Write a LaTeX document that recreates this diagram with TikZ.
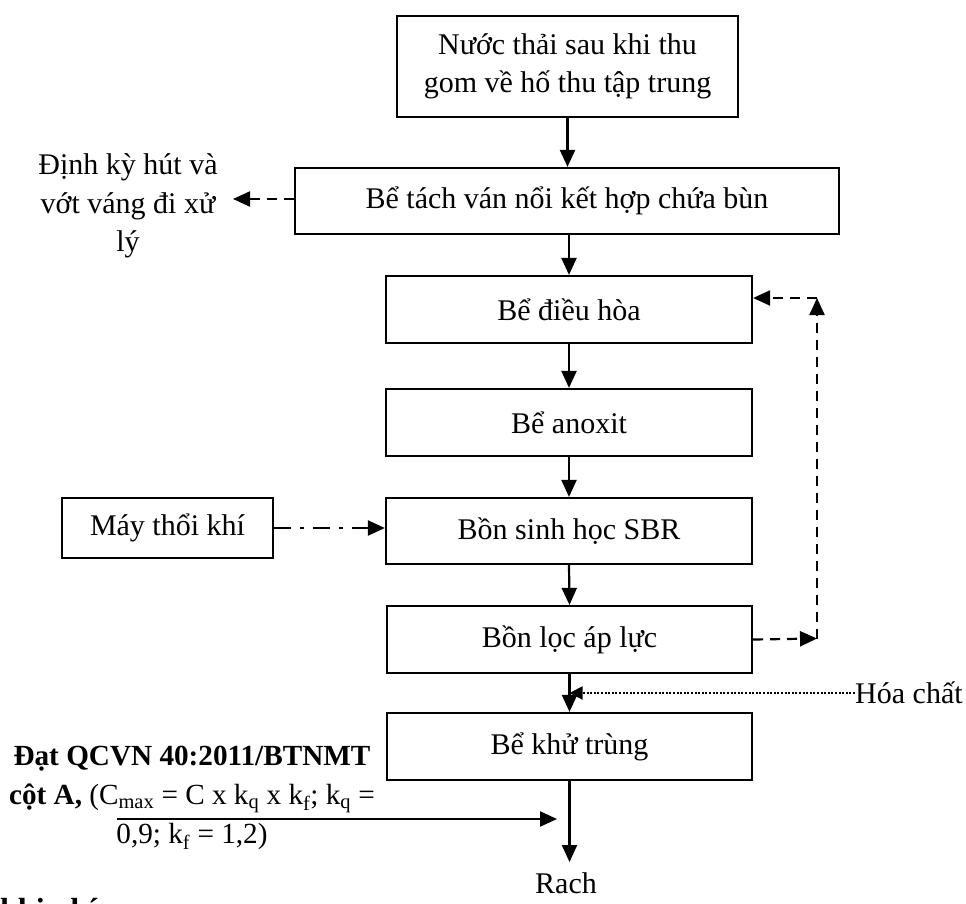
\documentclass[tikz,border=0pt]{standalone}
\usepackage{fontspec}
\setmainfont{Liberation Serif}
\usetikzlibrary{arrows.meta,calc}
\begin{document}
\begin{tikzpicture}[x=1pt,y=-1pt,
  font=\fontsize{30}{38.5}\selectfont,
  proc/.style={draw,line width=2.2pt,inner sep=0pt,align=center},
  tipstyle/.style={-{Triangle[length=17pt,width=15pt]}},
  flow/.style={line width=2.2pt,tipstyle},
  backflow/.style={line width=2.2pt,dash pattern=on 10pt off 7pt,tipstyle},
  airflow/.style={line width=2.2pt,dash pattern=on 17pt off 9pt on 4pt off 9pt,tipstyle},
  dosing/.style={line width=2pt,dash pattern=on 2pt off 1.6pt,-{Triangle[length=13pt,width=13pt]}},
  label/.style={inner sep=0pt,align=center}
]
\useasboundingbox (0,0) rectangle (966,903);

% main treatment line
\node[proc,minimum width=341pt,minimum height=101pt] (b1) at (567.5,66.5)
  {Nước thải sau khi thu\\gom về hố thu tập trung};
\node[proc,minimum width=544pt,minimum height=66pt] (b2) at (567,201)
  {Bể tách ván nổi kết hợp chứa bùn};
\node[proc,minimum width=366pt,minimum height=67pt] (b3) at (569,309.5) {Bể điều hòa};
\node[proc,minimum width=366pt,minimum height=67pt] (b4) at (569,422.5) {Bể anoxit};
\node[proc,minimum width=366pt,minimum height=66pt] (b6) at (569,531) {Bồn sinh học SBR};
\node[proc,minimum width=365pt,minimum height=67pt] (b7) at (569.5,639.5) {Bồn lọc áp lực};
\node[proc,minimum width=365pt,minimum height=67pt] (b8) at (569.5,746.5) {Bể khử trùng};

% blower
\node[proc,minimum width=211pt,minimum height=60pt] (b5) at (167.5,528) {Máy thổi khí};

% side labels
\node[label] (skimtxt) at (128,206) {Định kỳ hút và\\vớt váng đi xử\\lý};
\node[label,anchor=west] (hoa) at (855,693) {Hóa chất};
\node[label] (rach) at (566,883) {Rach};
\node[label,font=\fontsize{29.2}{39}\selectfont] (qcvn) at (192,798)
  {\textbf{Đạt QCVN 40:2011/BTNMT}\\
   \textbf{cột A,} (C\textsubscript{max} = C x k\textsubscript{q} x k\textsubscript{f}; k\textsubscript{q} =\\
   0,9; k\textsubscript{f} = 1,2)};
\node[label,anchor=base west,font=\fontsize{32}{38}\selectfont\bfseries] (tail) at (0,920) {khi phí};

% helper points
\coordinate (skim) at (233,199);
\coordinate (rc1) at (817,638.5);
\coordinate (rc2) at (817,298);
\coordinate (out) at (569.5,862);
\coordinate (qs) at (117,819);
\coordinate (qe) at (557,819);

% forward flow
\draw[flow] (b1.south) -- (b1.south |- b2.north);
\draw[flow] (b2.south -| b3.north) -- (b3.north);
\draw[flow] (b3.south) -- (b4.north);
\draw[flow] (b4.south) -- (b6.north);
\draw[flow] (b6.south) -- (b7.north);
\draw[flow] (b7.south) -- (b8.north);
\draw[flow] (b8.south) -- (out);
\draw[flow] (qs) -- (qe);

% scum removal
\draw[backflow] (b2.west |- skim) -- (skim);

% recirculation from the pressure filter
\draw[backflow] (b7.east) -- (rc1);
\draw[backflow] (rc1) -- (rc2);
\draw[backflow] (rc2) -- (b3.east |- rc2);

% aeration
\draw[airflow] (b5.east) -- (b5.east -| b6.west);

% chemical dosing
\draw[dosing] (hoa.west) -- (hoa.west -| b7.south);
\end{tikzpicture}
\end{document}
